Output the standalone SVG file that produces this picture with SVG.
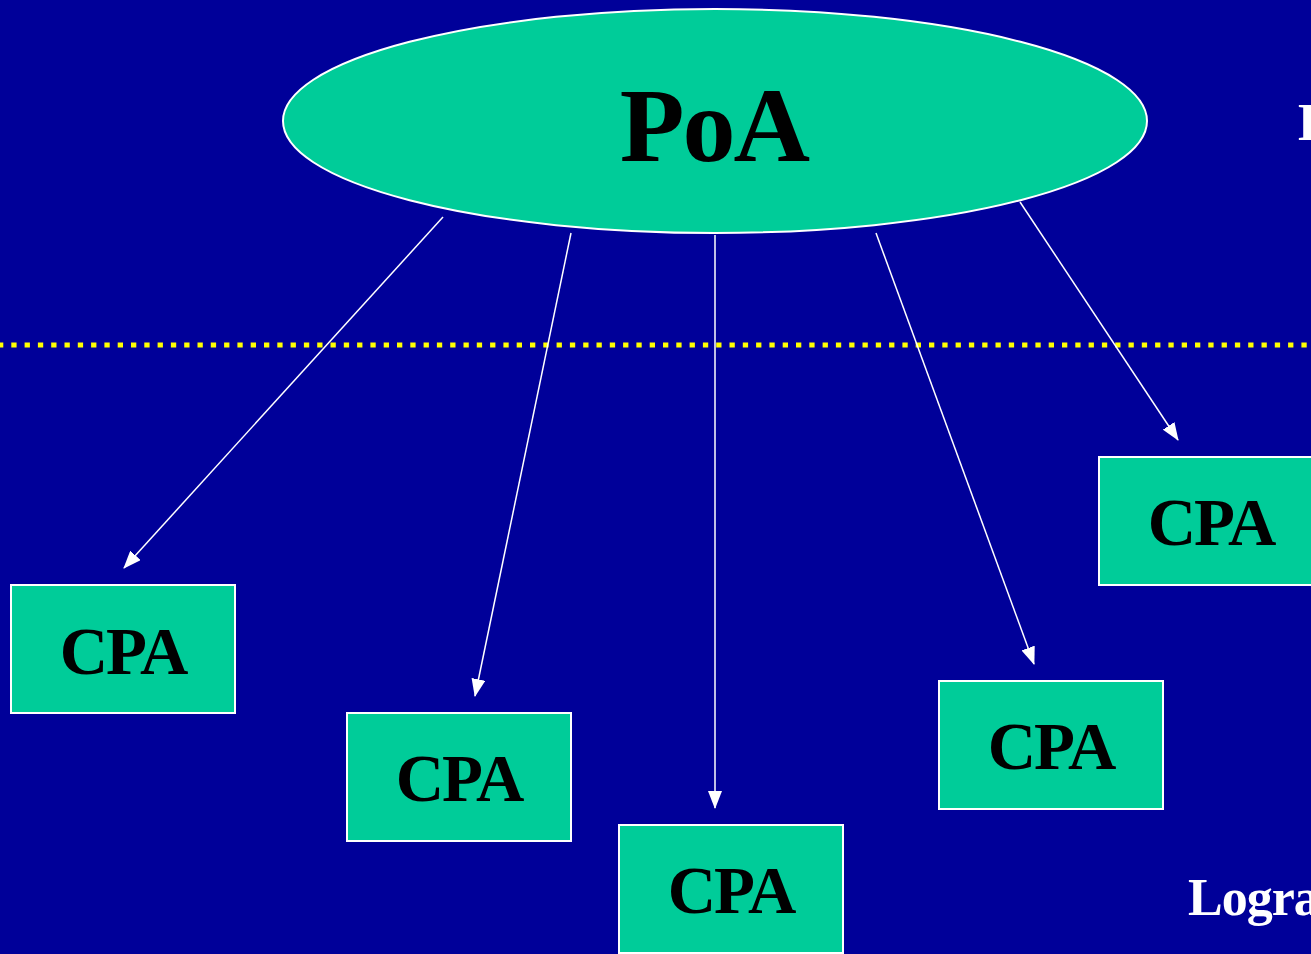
<svg xmlns="http://www.w3.org/2000/svg" width="1311" height="954" viewBox="0 0 1311 954">
<style>
.box{fill:#00CC99;stroke:#FFFFFF;stroke-width:2}
.lbl{font-family:"Liberation Serif","Times New Roman",serif;font-weight:bold;fill:#000000;text-anchor:middle}
.wt{font-family:"Liberation Serif","Times New Roman",serif;font-weight:bold;fill:#FFFFFF}
.con{stroke:#FFFFFF;stroke-width:1.5;fill:none;marker-end:url(#ah)}
</style>
<defs>
<marker id="ah" viewBox="0 0 18 14" refX="17" refY="7" markerWidth="18" markerHeight="14" markerUnits="userSpaceOnUse" orient="auto">
<path d="M0,0 L18,7 L0,14 Z" fill="#FFFFFF"/>
</marker>
</defs>
<rect x="0" y="0" width="1311" height="954" fill="#000099"/>
<line x1="0" y1="345" x2="1311" y2="345" stroke="#FFFF00" stroke-width="5" stroke-dasharray="5.3 8" stroke-dashoffset="2"/>
<g id="connectors">
<line class="con" x1="443" y1="217" x2="124" y2="568"/>
<line class="con" x1="571" y1="233" x2="475" y2="696"/>
<line class="con" x1="715" y1="235" x2="715" y2="808"/>
<line class="con" x1="876" y1="233" x2="1034" y2="664"/>
<line class="con" x1="1020" y1="202" x2="1178" y2="440"/>
</g>
<g id="poa">
<ellipse cx="715" cy="121" rx="432" ry="112" fill="#00CC99" stroke="#FFFFFF" stroke-width="2"/>
<text class="lbl" x="714" y="161" font-size="106" letter-spacing="-2">PoA</text>
</g>
<g id="cpa1">
<rect class="box" x="11" y="585" width="224" height="128"/>
<text class="lbl" x="123" y="674" font-size="67" letter-spacing="-2">CPA</text>
</g>
<g id="cpa2">
<rect class="box" x="347" y="713" width="224" height="128"/>
<text class="lbl" x="459" y="801" font-size="67" letter-spacing="-2">CPA</text>
</g>
<g id="cpa3">
<rect class="box" x="619" y="825" width="224" height="128"/>
<text class="lbl" x="731" y="913" font-size="67" letter-spacing="-2">CPA</text>
</g>
<g id="cpa4">
<rect class="box" x="939" y="681" width="224" height="128"/>
<text class="lbl" x="1051" y="769" font-size="67" letter-spacing="-2">CPA</text>
</g>
<g id="cpa5">
<rect class="box" x="1099" y="457" width="224" height="128"/>
<text class="lbl" x="1211" y="545" font-size="67" letter-spacing="-2">CPA</text>
</g>
<text class="wt" x="1298" y="140" font-size="52">E</text>
<text class="wt" x="1188" y="915" font-size="52" letter-spacing="-1">Logra</text>
</svg>
